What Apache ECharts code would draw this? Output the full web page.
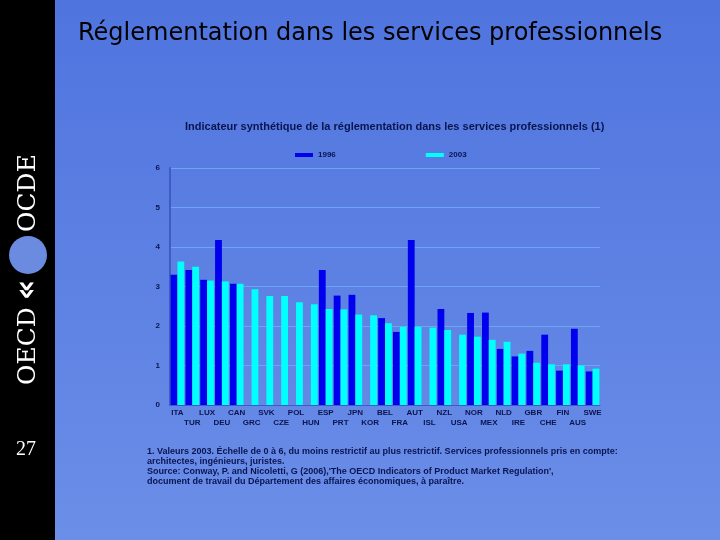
<!DOCTYPE html>
<html>
<head>
<meta charset="utf-8">
<script src="https://cdn.jsdelivr.net/npm/echarts@6/dist/echarts.min.js"></script>
<style>
  html, body { margin: 0; padding: 0; }
  #chart { width: 720px; height: 540px; }
</style>
</head>
<body>
<div id="chart"></div>
<script>
const countries = ['ITA', 'TUR', 'LUX', 'DEU', 'CAN', 'GRC', 'SVK', 'CZE', 'POL', 'HUN', 'ESP', 'PRT', 'JPN', 'KOR', 'BEL',
  'FRA', 'AUT', 'ISL', 'NZL', 'USA', 'NOR', 'MEX', 'NLD', 'IRE', 'GBR', 'CHE', 'FIN', 'AUS', 'SWE'];
const values1996 = [3.3, 3.42, 3.17, 4.18, 3.07, null, null, null, null, null, 3.42, 2.77, 2.79, null, 2.2,
  1.85, 4.18, null, 2.43, null, 2.33, 2.34, 1.42, 1.23, 1.37, 1.78, 0.87, 1.93, 0.85];
const values2003 = [3.63, 3.5, 3.15, 3.13, 3.07, 2.93, 2.76, 2.76, 2.6, 2.55, 2.43, 2.42, 2.29, 2.27, 2.07,
  1.98, 1.98, 1.96, 1.9, 1.78, 1.73, 1.65, 1.6, 1.3, 1.07, 1.03, 1.03, 1.0, 0.92];

const chart = echarts.init(document.getElementById('chart'));

const footFont = 'bold 9px "Liberation Sans", Arial, sans-serif';

chart.setOption({
  backgroundColor: {
    type: 'linear', x: 0, y: 0, x2: 0, y2: 1,
    colorStops: [{ offset: 0, color: '#4f74de' }, { offset: 1, color: '#6b8ee8' }]
  },
  graphic: [
    { type: 'rect', left: 0, top: 0, shape: { width: 55, height: 540 }, style: { fill: '#000' } },
    { type: 'circle', shape: { cx: 28, cy: 255, r: 19 }, style: { fill: '#6a8be0' } },
    {
      type: 'text', x: 28, y: 232, rotation: Math.PI / 2,
      style: { text: 'OCDE', fill: '#fff', font: '25px "DejaVu Serif", serif', align: 'left', verticalAlign: 'middle' }
    },
    {
      type: 'text', x: 28, y: 385, rotation: Math.PI / 2,
      style: { text: 'OECD', fill: '#fff', font: '25px "DejaVu Serif", serif', align: 'left', verticalAlign: 'middle' }
    },
    {
      type: 'text', x: 28, y: 290, rotation: Math.PI / 2,
      style: { text: '«', fill: '#fff', font: 'bold 32px "DejaVu Sans", sans-serif', align: 'center', verticalAlign: 'middle' }
    },
    {
      type: 'text', x: 16, y: 440,
      style: { text: '27', fill: '#fff', font: '20px "Liberation Serif", serif' }
    },
    {
      type: 'text', x: 78, y: 22,
      style: { text: 'Réglementation dans les services professionnels', fill: '#000', font: '24px "DejaVu Sans", sans-serif' }
    },
    {
      type: 'text', x: 147, y: 447,
      style: {
        text: '1. Valeurs 2003. Échelle de 0 à 6, du moins restrictif au plus restrictif. Services professionnels pris en compte:\n' +
          'architectes, ingénieurs, juristes.\n' +
          'Source: Conway, P. and Nicoletti, G (2006),\'The OECD Indicators of Product Market Regulation\',\n' +
          'document de travail du Département des affaires économiques, à paraître.',
        fill: '#0a1550', font: footFont, lineHeight: 10
      }
    }
  ],
  title: {
    text: 'Indicateur synthétique de la réglementation dans les services professionnels (1)',
    left: 180, top: 116,
    textStyle: { color: '#0a1550', fontSize: 11, fontWeight: 'bold', fontFamily: '"Liberation Sans", Arial' }
  },
  legend: {
    top: 146, left: 290, itemGap: 90, itemWidth: 18, itemHeight: 4,
    icon: 'rect',
    textStyle: { color: '#0a1550', fontSize: 8, fontWeight: 'bold', fontFamily: '"Liberation Sans", Arial' },
    data: ['1996', '2003']
  },
  grid: { left: 170, right: 120, top: 168, bottom: 135 },
  xAxis: {
    type: 'category',
    data: countries,
    axisLine: { lineStyle: { color: '#3e5cc4' } },
    axisTick: { show: false },
    axisLabel: {
      interval: 0, fontSize: 8, color: '#0a1550', fontWeight: 'bold', margin: 3, lineHeight: 10,
      fontFamily: '"Liberation Sans", Arial',
      formatter: (v, i) => (i % 2 ? '\n' + v : v)
    }
  },
  yAxis: {
    type: 'value', min: 0, max: 6, interval: 1,
    axisLine: { show: true, lineStyle: { color: '#3e5cc4', width: 2 } },
    axisLabel: { fontSize: 8, color: '#0a1550', fontWeight: 'bold', margin: 10, fontFamily: '"Liberation Sans", Arial' },
    splitLine: { lineStyle: { color: '#6aa6f5' } }
  },
  series: [
    { name: '1996', type: 'bar', data: values1996, itemStyle: { color: '#0000ee' }, barGap: '0%', barCategoryGap: '8%' },
    { name: '2003', type: 'bar', data: values2003, itemStyle: { color: '#00ffff' } }
  ]
});
</script>
</body>
</html>
